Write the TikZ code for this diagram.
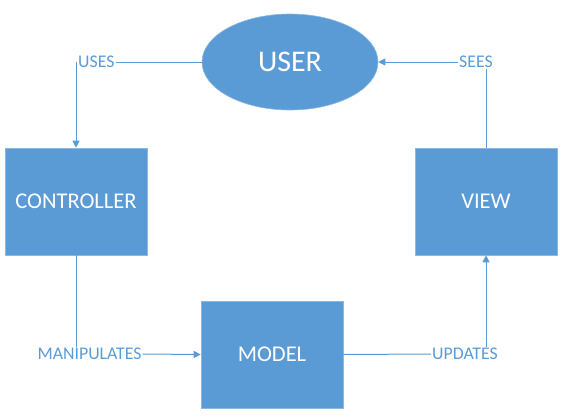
\documentclass[tikz,border=0pt]{standalone}
\usepackage{fontspec}
\setmainfont{Carlito}
\usetikzlibrary{arrows.meta,shapes.geometric}
\definecolor{mvcblue}{HTML}{5B9BD5}
\definecolor{mvcline}{HTML}{5B9BD5}
\tikzset{
  box/.style={rectangle, fill=mvcblue, draw=mvcblue!70!white, line width=0.6pt, text=white, minimum width=142pt, minimum height=107pt, inner sep=0pt, font=\fontsize{22.5}{25}\selectfont},
  oval/.style={ellipse, fill=mvcblue, draw=mvcblue!70!white, line width=0.6pt, text=white, minimum width=176pt, minimum height=96pt, inner sep=0pt, font=\fontsize{30}{33}\selectfont},
  lbl/.style={text=mvcblue, inner sep=1pt, font=\fontsize{17.8}{20}\selectfont},
  conn/.style={draw=mvcline, line width=1pt},
  arr/.style={conn, -{Triangle[width=7pt,length=7pt]}}
}
\begin{document}
\begin{tikzpicture}[x=1pt,y=-1pt]
\useasboundingbox (0,0) rectangle (563,416);
\node[oval] (user) at (290,62) {USER};
\node[box] (ctrl) at (76,201.5) {CONTROLLER};
\node[box] (view) at (486,201.5) {VIEW};
\node[box] (model) at (272,354.5) {MODEL};
\coordinate (c1) at (76,62);
\node[lbl, anchor=west] (uses) at (77,62) {USES};
\node[lbl] (sees) at (476,62) {SEES};
\node[lbl] (manip) at (89.5,354) {MANIPULATES};
\node[lbl] (upd) at (465,354) {UPDATES};
\draw[conn] (user.west) -- (uses.east);
\draw[arr] (c1) -- (ctrl.north);
\draw[conn] (ctrl.south) -- (ctrl.south |- manip.north);
\draw[arr] (manip.east) -- (model.west);
\draw[conn] (model.east) -- (upd.west);
\draw[arr] (view.south |- upd.north) -- (view.south);
\draw[conn] (view.north) -- (view.north |- sees.south);
\draw[arr] (sees.west) -- (user.east);
\end{tikzpicture}
\end{document}
